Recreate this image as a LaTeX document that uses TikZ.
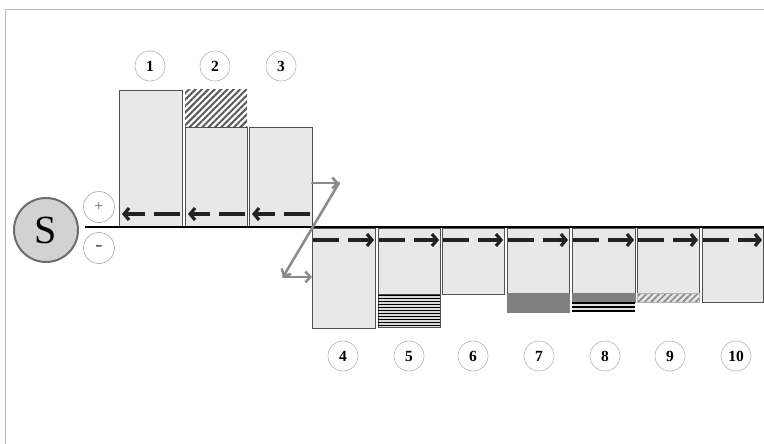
\documentclass[tikz,border=0pt]{standalone}
\usepackage{fontspec}
\setmainfont{Liberation Serif}
\usetikzlibrary{arrows.meta,patterns.meta}
\definecolor{barfill}{HTML}{E8E8E8}
\definecolor{barline}{HTML}{505050}
\definecolor{darkfill}{HTML}{808080}
\definecolor{arrcol}{HTML}{222222}
\definecolor{zcol}{HTML}{8A8A8A}
\begin{document}
\begin{tikzpicture}[x=1pt,y=-1pt,
  bar/.style={draw=barline, line width=0.9pt, fill=barfill, anchor=north west, inner sep=0pt, outer sep=0pt},
  darr/.style={draw=arrcol, line width=3.2pt, dash pattern=on 26pt off 9pt, -{Straight Barb[length=5pt,width=12pt]}},
  lab/.style={circle, draw=gray!60, line width=0.6pt, minimum size=30pt, inner sep=0pt, font=\bfseries\fontsize{15.5}{15.5}\selectfont},
  pm/.style={circle, draw=gray!70, line width=0.6pt, minimum size=31pt, inner sep=0pt, text=gray!80!black},
  zarr/.style={draw=zcol, line width=2.5pt, line cap=round, -{Straight Barb[length=5pt,width=11pt]}},
  hatch/.style={pattern={Lines[angle=45,distance=4.5pt,line width=2pt]}, pattern color=gray!70!black},
  frameline/.style={draw=gray!55, line width=1pt}
]
\useasboundingbox (0,0) rectangle (764,444);
\draw[frameline] (5.5,444) -- (5.5,9.5) -- (764,9.5);

% source and poles
\node[circle, draw=gray!85!black, line width=2pt, fill=gray!35, minimum size=64pt, inner sep=0pt, font=\fontsize{40}{40}\selectfont] (S) at (46,230) {S};
\node[pm, font=\fontsize{16}{16}\selectfont] (plus) at (99,207) {+};
\node[pm, font=\bfseries\fontsize{22}{22}\selectfont] (minus) at (99,248) {-};

% upper bars
\node[bar, minimum width=63pt, minimum height=137pt] (b1) at (119,90) {};
\node[bar, minimum width=62pt, minimum height=100pt] (b2) at (185,127) {};
\node[anchor=south west, draw=none, minimum width=62pt, minimum height=37pt, inner sep=0pt, outer sep=0pt, preaction={fill=white}, hatch] (b2h) at (b2.north west) {};
\node[bar, minimum width=63pt, minimum height=100pt] (b3) at (249,127) {};

% lower bars
\node[bar, minimum width=63pt, minimum height=100pt] (b4) at (312,228) {};
\node[bar, minimum width=62pt, minimum height=66pt] (b5) at (378,228) {};
\node[anchor=north west, draw=barline, line width=0.6pt, fill=gray!30, minimum width=62pt, minimum height=33pt, inner sep=0pt, outer sep=0pt] (b5s) at (b5.south west) {};
\foreach \k in {0,...,10} { \draw[black, line width=1.7pt] ([yshift=-1.5pt-3*\k pt]b5s.north west) -- ([yshift=-1.5pt-3*\k pt]b5s.north east); }
\node[bar, minimum width=62pt, minimum height=66pt] (b6) at (442,228) {};
\node[bar, minimum width=62pt, minimum height=65pt] (b7) at (507,228) {};
\node[anchor=north west, draw=darkfill, fill=darkfill, line width=0.6pt, minimum width=62pt, minimum height=19pt, inner sep=0pt, outer sep=0pt] (b7d) at (b7.south west) {};
\node[bar, minimum width=63pt, minimum height=65pt] (b8) at (572,228) {};
\node[anchor=north west, draw=darkfill, fill=darkfill, line width=0.6pt, minimum width=63pt, minimum height=9pt, inner sep=0pt, outer sep=0pt] (b8d) at (b8.south west) {};
\node[anchor=north west, draw=none, fill=gray!25, minimum width=63pt, minimum height=10pt, inner sep=0pt, outer sep=0pt] (b8s) at (b8d.south west) {};
\foreach \k in {1.2,5,9} { \draw[black, line width=1.5pt] ([yshift=-\k pt]b8s.north west) -- ([yshift=-\k pt]b8s.north east); }
\node[bar, minimum width=62pt, minimum height=65pt] (b9) at (637,228) {};
\node[anchor=north west, draw=gray!60, line width=0.5pt, minimum width=62pt, minimum height=9pt, inner sep=0pt, outer sep=0pt, preaction={fill=gray!20}, pattern={Lines[angle=45,distance=4.5pt,line width=1.7pt]}, pattern color=gray!90] (b9h) at (b9.south west) {};
\node[bar, minimum width=61pt, minimum height=74pt] (b10) at (702,228) {};

% axis
\coordinate (axend) at (764,227);
\draw[black, line width=1.8pt] ([xshift=2pt]plus.west |- axend) -- (axend);

% dashed arrows
\foreach \b in {b1,b2,b3} {
  \draw[darr] ([xshift=-2pt,yshift=13pt]\b.south east) -- ([xshift=3pt,yshift=13pt]\b.south west);
}
\foreach \b in {b4,b5,b6,b7,b8,b9,b10} {
  \draw[darr] ([xshift=1pt,yshift=-12pt]\b.north west) -- ([xshift=-1pt,yshift=-12pt]\b.north east);
}

% Z connector
\coordinate (z1) at (339,183);
\coordinate (z2) at (283,277);
\draw[zarr] (b3.east |- z1) -- (z1);
\draw[zarr] (z1) -- (z2);
\draw[zarr] (z2) -- (b4.west |- z2);

% labels
\node[lab] (l1) at (150,66) {1};
\node[lab] (l2) at (215,66) {2};
\node[lab] (l3) at (281,66) {3};
\node[lab] (l4) at (343,356) {4};
\node[lab] (l5) at (409,356) {5};
\node[lab] (l6) at (473,356) {6};
\node[lab] (l7) at (539,356) {7};
\node[lab] (l8) at (605,356) {8};
\node[lab] (l9) at (670,356) {9};
\node[lab] (l10) at (736,356) {10};
\end{tikzpicture}
\end{document}
